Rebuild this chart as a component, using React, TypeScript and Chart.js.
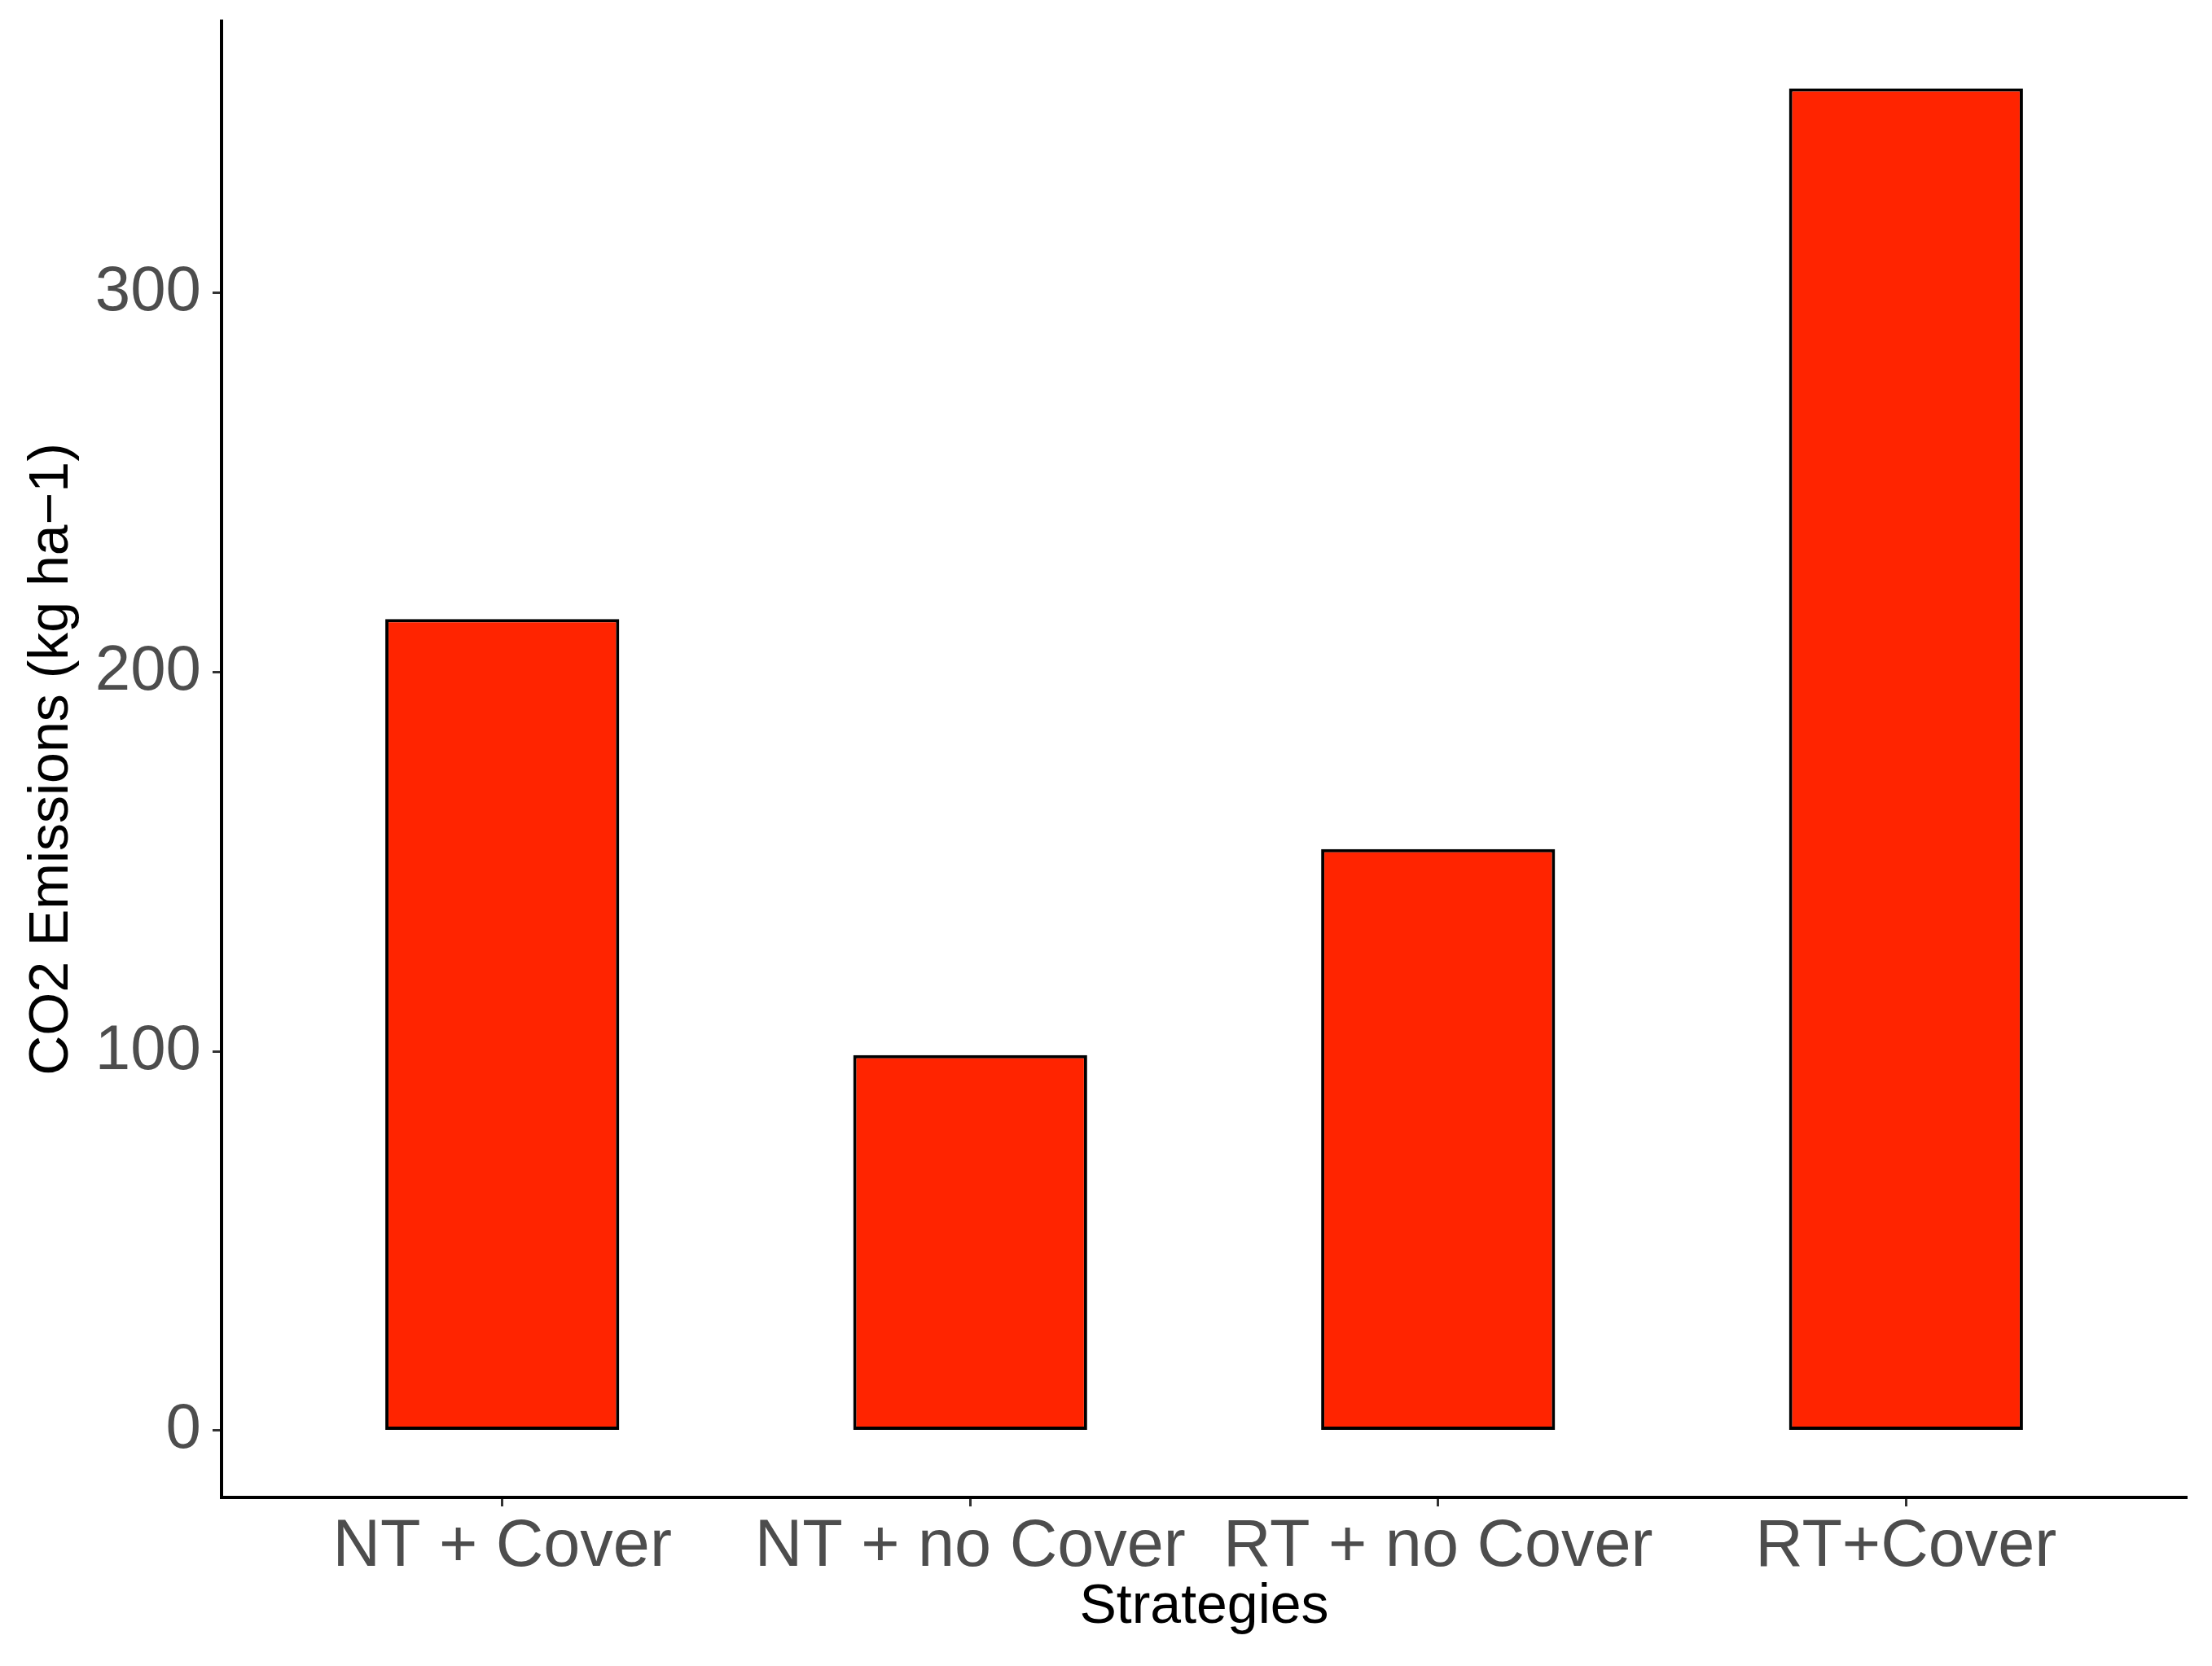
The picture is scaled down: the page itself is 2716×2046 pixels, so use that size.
import React, { useEffect, useRef } from "react";
import { Chart, registerables } from "chart.js";

Chart.register(...registerables);

const categories = ["NT + Cover", "NT + no Cover", "RT + no Cover", "RT+Cover"];
const emissions = [214, 99, 153.3, 354];
const yTickValues = [0, 100, 200, 300];
const xTickValues = [1, 2, 3, 4];
const yTitle = "CO2 Emissions (kg ha\u22121)";
const xTitle = "Strategies";

const FONT = "'Liberation Sans', Arial, Helvetica, sans-serif";

export default function App() {
  const ref = useRef<HTMLCanvasElement | null>(null);

  useEffect(() => {
    if (!ref.current) return;
    const chart = new Chart(ref.current, {
      type: "bar",
      data: {
        datasets: [
          {
            label: "CO2",
            data: categories.map((c, i) => ({ x: xTickValues[i], y: emissions[i] })),
            backgroundColor: "#FF2400",
            borderColor: "#000000",
            borderWidth: 4,
            borderSkipped: false,
            categoryPercentage: 1,
            barPercentage: 0.5,
          },
        ],
      },
      options: {
        responsive: false,
        animation: false,
        devicePixelRatio: 1,
        layout: { padding: { left: 0, top: 26, right: 31, bottom: 0 } },
        plugins: {
          legend: { display: false },
          tooltip: { enabled: false },
        },
        scales: {
          x: {
            type: "linear",
            offset: false,
            min: 0.4,
            max: 4.6,
            afterBuildTicks: (scale: any) => {
              scale.ticks = xTickValues.map((v) => ({ value: v }));
            },
            afterFit: (scale: any) => {
              scale.height = 2046 - 1839;
              scale.paddingLeft = 0;
              scale.paddingRight = 0;
            },
            border: { display: true, color: "#000000", width: 4 },
            grid: {
              offset: false,
              drawOnChartArea: false,
              drawTicks: true,
              tickLength: 11,
              tickWidth: 3,
              tickColor: "#333333",
            },
            ticks: {
              autoSkip: false,
              maxRotation: 0,
              minRotation: 0,
              padding: 2,
              color: "#4D4D4D",
              font: { family: FONT, size: 81 },
              callback: (v: any) => {
                const i = Math.round(Number(v)) - 1;
                return categories[i] ?? "";
              },
            },
            title: {
              display: true,
              text: xTitle,
              color: "#000000",
              font: { family: FONT, size: 68, lineHeight: 1 },
              padding: { top: 0, bottom: 38 },
            },
          },
          y: {
            type: "linear",
            min: -17.7,
            max: 371.7,
            afterBuildTicks: (scale: any) => {
              scale.ticks = yTickValues.map((v) => ({ value: v }));
            },
            afterFit: (scale: any) => {
              scale.width = 272;
              scale.paddingTop = 0;
              scale.paddingBottom = 0;
            },
            border: { display: true, color: "#000000", width: 4 },
            grid: {
              drawOnChartArea: false,
              drawTicks: true,
              tickLength: 11,
              tickWidth: 3,
              tickColor: "#333333",
            },
            ticks: {
              padding: 14,
              color: "#4D4D4D",
              font: { family: FONT, size: 78 },
            },
            title: {
              display: true,
              text: yTitle,
              color: "#000000",
              font: { family: FONT, size: 68, lineHeight: 1 },
              padding: { top: 30, bottom: 0 },
            },
          },
        },
      },
    });
    return () => chart.destroy();
  }, []);

  return (
    <div style={{ position: "absolute", left: 0, top: 0, width: 2716, height: 2046, background: "#fff" }}>
      <canvas ref={ref} width={2716} height={2046} style={{ display: "block" }} />
    </div>
  );
}
